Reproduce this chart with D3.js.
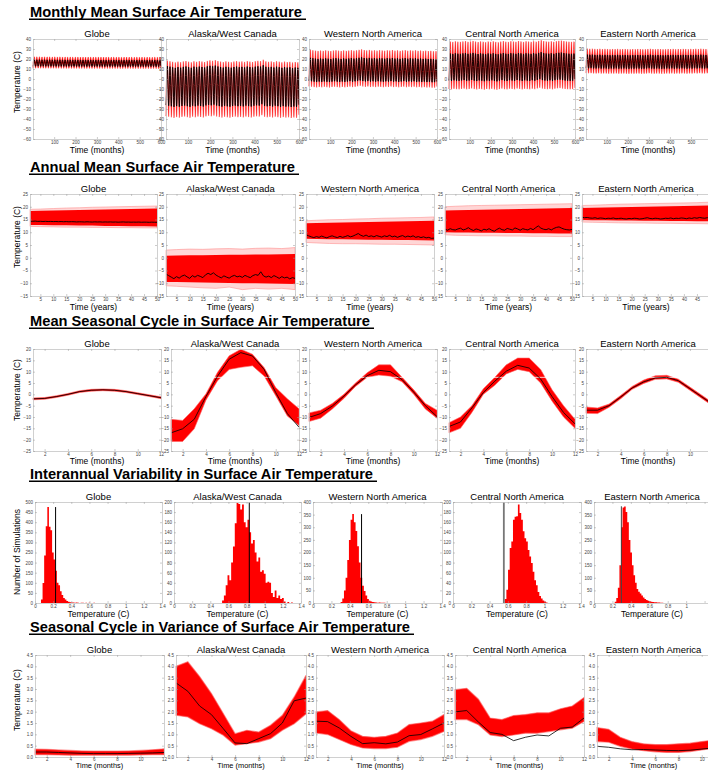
<!DOCTYPE html>
<html>
<head>
<meta charset="utf-8">
<script src="https://d3js.org/d3.v7.min.js"></script>
<style>
  body { margin: 0; background: #fff; }
  text { font-family: "Liberation Sans", Arial, sans-serif; }
</style>
</head>
<body>
<script>
// ---- data ----
var regions = ["Globe", "Alaska/West Canada", "Western North America", "Central North America", "Eastern North America"];

var sectionTitles = ["Monthly Mean Surface Air Temperature", "Annual Mean Surface Air Temperature",
  "Mean Seasonal Cycle in Surface Air Temperature", "Interannual Variability in Surface Air Temperature",
  "Seasonal Cycle in Variance of Surface Air Temperature"];

// monthly mean (C), one value per calendar month
var monthlyObs = [
  [12.5, 12.8, 14, 15.5, 17, 18.3, 19, 18.7, 17.3, 15.6, 14, 13],
  [-27, -24, -17, -6, 3, 10, 12, 9.5, 3, -7, -18, -25],
  [-2.5, -0.5, 3.5, 8, 12.5, 17, 20.5, 19.5, 14.5, 8, 2, -2],
  [-1.5, 1, 6, 12, 17, 22, 25.5, 24.5, 19, 12, 5, 0],
  [10.5, 11, 13, 15.5, 18.5, 21.5, 24, 23.5, 21, 17.5, 14, 11.5]
];
var monthlyHi = [
  [16.5, 17, 18, 19.5, 20.5, 21.5, 22, 21.8, 20.5, 19, 17.8, 17],
  [-12, -8, -2, 5, 11, 16, 17.5, 15.5, 10, 3, -5, -10],
  [8, 10, 14, 18, 22, 26, 28.5, 28, 23, 17, 11, 8],
  [10, 13, 19, 25, 30, 35, 37.5, 37, 31, 23, 15, 11],
  [18, 18.5, 21, 23.5, 26, 28.5, 30, 29.5, 27, 24, 20.5, 18.5]
];
var monthlyLo = [
  [10.5, 10.8, 11.8, 13, 14.5, 15.5, 16, 15.8, 14.8, 13.3, 12, 11],
  [-38, -36, -29, -17, -6, 3, 6, 3, -4, -16, -28, -35],
  [-8, -6, -2, 2, 6, 11, 14, 13, 8, 2, -3, -7],
  [-10, -7.5, -2, 4, 9, 14, 17, 16, 10, 3, -4, -9],
  [5.5, 6, 8, 11, 14, 17, 19, 18.5, 16, 12, 8.5, 6.5]
];

// annual mean, observed (50 years)
var annualObs = [
  [14.35,14.3,14.38,14.25,14.3,14.22,14.28,14.2,14.25,14.18,14.22,14.15,14.2,14.12,14.18,14.1,14.15,14.12,14.05,14.1,14.08,14.02,14.1,14.05,14.0,14.08,14.02,14.06,13.98,14.04,14.0,14.05,13.98,14.02,13.95,14.0,14.05,13.97,14.0,13.94,13.98,13.95,14.0,13.92,13.97,13.95,13.9,13.96,13.92,13.9],
  [-6.4,-7.0,-7.6,-8.2,-7.4,-8.0,-7.2,-6.8,-7.5,-8.1,-7.0,-7.6,-6.9,-7.3,-7.8,-6.7,-6.1,-6.6,-5.9,-6.8,-7.4,-7.9,-7.1,-7.6,-8.0,-7.3,-6.9,-7.5,-7.2,-7.7,-6.9,-7.4,-7.8,-7.0,-6.6,-6.9,-5.5,-7.1,-7.6,-7.2,-7.8,-7.0,-7.5,-8.1,-7.4,-7.9,-7.6,-8.3,-7.8,-8.1],
  [9.0,8.6,8.2,7.9,8.3,8.0,8.5,8.1,7.8,8.3,8.6,8.2,7.9,8.4,8.0,8.3,8.7,8.2,8.5,9.0,9.5,8.8,8.4,8.9,8.3,8.6,8.2,8.7,8.4,8.1,8.6,8.3,8.8,8.2,8.5,8.0,8.4,8.7,8.1,8.5,8.2,8.6,8.0,8.3,7.9,8.2,7.8,8.0,7.6,7.7],
  [11.2,10.8,11.4,11.0,10.9,11.3,11.6,10.9,11.2,11.8,11.1,10.7,11.3,11.0,10.5,11.2,10.9,11.4,10.8,10.4,11.1,11.6,11.0,10.8,11.5,11.2,10.9,11.7,11.3,10.8,11.4,11.1,10.9,11.5,11.0,11.8,12.5,11.6,11.2,11.0,11.4,10.9,11.5,11.9,12.1,11.6,11.2,11.0,10.9,11.1],
  [15.9,15.7,15.8,15.6,15.5,15.7,15.4,15.6,15.5,15.3,15.5,15.4,15.6,15.3,15.4,15.5,15.3,15.2,15.4,15.3,15.5,15.4,15.2,15.3,15.5,15.7,15.4,15.3,15.5,15.4,15.2,15.3,15.5,15.4,15.6,15.3,15.5,15.4,15.6,15.5,15.3,15.6,15.4,15.7,15.5,15.8,15.6,15.5,15.7,15.6]
];
// ensemble spread of annual means, sampled at these years
var bandYears = [1, 5, 10, 15, 20, 25, 30, 35, 40, 45, 50];
var annualCoreLo = [
  [12.8,12.8,12.7,12.7,12.6,12.6,12.5,12.5,12.4,12.4,12.3],
  [-9.5,-9.5,-9.6,-9.7,-9.8,-9.9,-10,-10,-10.1,-10.2,-10.3],
  [7.5,7.4,7.3,7.3,7.2,7.1,7.1,7,7,6.9,6.8],
  [10,9.9,9.9,9.8,9.8,9.7,9.7,9.6,9.6,9.5,9.5],
  [14.8,14.7,14.7,14.6,14.6,14.5,14.5,14.4,14.4,14.3,14.3]
];
var annualCoreHi = [
  [18.3,18.4,18.5,18.6,18.7,18.8,18.9,19,19.1,19.2,19.3],
  [0.8,0.9,1,1,1.1,1.2,1.2,1.3,1.3,1.4,1.5],
  [13.5,13.6,13.7,13.8,13.9,14,14.1,14.2,14.3,14.4,14.5],
  [18.5,18.6,18.7,18.8,18.9,19,19.1,19.2,19.3,19.4,19.5],
  [19.5,19.6,19.7,19.8,19.9,20,20.1,20.2,20.3,20.4,20.5]
];
var annualOuterLo = [
  [12.3,12.2,12.1,12,12,11.9,11.9,11.8,11.8,11.7,11.7],
  [-11,-11.2,-11.5,-11.8,-12,-11.5,-12.5,-12,-12.3,-12,-12.5],
  [6,5.8,5.6,5.5,5.5,5.4,5.3,5.3,5.2,5.1,5],
  [9,8.8,8.7,8.6,8.6,8.5,8.5,8.4,8.4,8.3,8.3],
  [14,13.9,13.8,13.7,13.6,13.6,13.5,13.5,13.4,13.4,13.3]
];
var annualOuterHi = [
  [19,19.1,19.3,19.5,19.6,19.8,19.9,20,20.1,20.2,20.3],
  [3,3.2,3.4,3.3,3.5,3.6,3.4,3.7,3.8,3.6,4],
  [14.5,14.7,14.9,15,15.2,15.3,15.5,15.6,15.7,15.8,16],
  [20,20.2,20.4,20.5,20.6,20.7,20.8,20.9,21,21.1,21.2],
  [20.5,20.6,20.8,21,21.1,21.2,21.3,21.4,21.5,21.6,21.8]
];

// mean seasonal cycle (anomaly, C)
var seasObs = [
  [-2, -1.8, -1, 0, 1.2, 1.8, 2, 1.8, 1.2, 0.3, -0.6, -1.5],
  [-17, -15.2, -11, -1, 8, 15.5, 18.4, 16.9, 11, 0.8, -8.5, -14.5],
  [-10.2, -8.5, -5.2, -0.8, 4.2, 8.2, 10.6, 10, 6.5, 1, -5, -9.8],
  [-14.2, -12.2, -6, 0.8, 5.8, 10.2, 12.8, 11.6, 6.8, -1, -8, -13],
  [-7, -7, -5, -1.2, 2.8, 5.5, 7.2, 7.5, 6, 2.5, -1, -4.5]
];
var seasHi = [
  [-1.6, -1.4, -0.6, 0.4, 1.6, 2.2, 2.4, 2.2, 1.6, 0.7, -0.2, -1.1],
  [-11, -11.5, -6.4, 0.2, 9.7, 17, 19.9, 17.7, 11.8, 3, -2, -6.4],
  [-8.2, -7, -4, 0, 5, 9.5, 13, 13, 7.5, 2, -4, -7],
  [-12.5, -10, -5, 2.5, 7.5, 13, 16, 16, 11, 2, -5, -11],
  [-5.6, -6, -4.3, -0.5, 3.5, 6.3, 8.2, 8.4, 6.7, 3.2, -0.3, -3.8]
];
var seasLo = [
  [-2.4, -2.2, -1.4, -0.4, 0.8, 1.4, 1.6, 1.4, 0.8, -0.1, -1, -1.9],
  [-20.8, -20.8, -15.2, -2.6, 6, 11, 11.9, 12.6, 8.1, -0.6, -9.6, -13.7],
  [-12, -10.5, -6.5, -1.8, 3.5, 7.5, 8.5, 8, 5.5, 0, -6.5, -10.5],
  [-17, -15, -8, 0, 4, 9, 11, 10, 5, -3, -10, -15],
  [-8.4, -8.5, -5.7, -2, 2.2, 4.8, 6.6, 6.8, 5.3, 1.8, -1.7, -5.2]
];

// interannual variability histograms: first bin edge, bin width, counts
var histX0 = [0.066, 0.53, 0.30, 0.566, 0.225];
var histW = [0.0175, 0.02, 0.018, 0.018, 0.017];
var histCounts = [
  [17,99,235,380,475,378,360,250,215,160,100,88,58,40,25,17,10,6,4,3,2,1,2,1,0,1,1,0,1,0,1,0,0,1],
  [5,15,35,55,45,80,112,158,198,196,185,195,160,150,165,140,118,125,100,82,90,62,65,58,40,42,40,20,12,25,10,15,8,10,3,0,2,0,1],
  [4,18,50,100,170,250,330,352,320,285,225,160,100,68,48,30,16,9,6,4,3,2,1,2,1,1,1],
  [8,26,66,109,122,165,171,172,195,178,165,142,128,122,105,92,79,62,45,35,22,14,9,5,3,1],
  [5,20,60,150,300,378,382,360,320,250,200,150,110,80,55,45,38,30,22,16,12,9,7,5,4,3,3,2,2,1,1]
];
var histObs = [0.227, 0.83, 0.527, 0.556, 0.297];
var histObsTop = [475, 200, 352, 200, 383];

// seasonal cycle in variance
var varObs = [
  [0.22,0.22,0.2,0.18,0.16,0.15,0.15,0.15,0.16,0.17,0.18,0.2],
  [3.27,2.9,2.25,1.87,1.25,0.62,0.59,0.81,1.03,1.5,2.48,2.6],
  [1.58,1.56,1.28,0.91,0.59,0.63,0.58,0.66,0.94,0.99,1.24,1.5],
  [1.99,2.05,1.54,1.08,1.0,0.72,0.87,0.97,0.93,1.27,1.32,1.72],
  [0.47,0.43,0.36,0.32,0.33,0.31,0.29,0.28,0.3,0.35,0.4,0.43]
];
var varHi = [
  [0.35,0.34,0.31,0.29,0.27,0.26,0.26,0.26,0.27,0.29,0.32,0.36],
  [4.0,4.2,3.55,2.8,1.92,1.03,1.18,1.1,1.4,1.84,2.65,3.6],
  [1.99,2.05,1.65,1.16,0.91,0.87,0.91,1.06,1.43,1.5,1.58,1.87],
  [2.97,3.03,2.55,1.72,1.65,1.83,1.87,1.95,1.95,2.13,2.25,2.62],
  [1.3,1.22,0.87,0.68,0.58,0.55,0.55,0.58,0.61,0.68,0.75,0.83]
];
var varLo = [
  [0.1,0.1,0.09,0.08,0.08,0.08,0.08,0.08,0.08,0.09,0.1,0.1],
  [1.84,1.77,1.47,1.25,0.96,0.52,0.59,0.66,0.81,1.18,1.47,1.9],
  [1.06,0.99,0.77,0.55,0.4,0.37,0.37,0.43,0.69,0.77,0.91,1.13],
  [1.65,1.65,1.42,0.97,0.9,0.97,1.05,1.05,1.12,1.2,1.27,1.57],
  [0.68,0.65,0.47,0.35,0.28,0.23,0.2,0.2,0.24,0.31,0.37,0.45]
];

// tick values
var monthlyXTicks = [100, 200, 300, 400, 500, 600];
var monthlyYTicks = [-60, -50, -40, -30, -20, -10, 0, 10, 20, 30, 40];
var yearTicks = [5, 10, 15, 20, 25, 30, 35, 40, 45, 50];
var annualYTicks = [-15, -10, -5, 0, 5, 10, 15, 20, 25];
var monthTicks = [2, 4, 6, 8, 10, 12];
var seasYTicks = [-25, -20, -15, -10, -5, 0, 5, 10, 15, 20];
var histXTicks = [0, 0.2, 0.4, 0.6, 0.8, 1, 1.2, 1.4];
var histYTicks = [
  [0, 50, 100, 150, 200, 250, 300, 350, 400, 450, 500],
  [0, 20, 40, 60, 80, 100, 120, 140, 160, 180, 200],
  [0, 50, 100, 150, 200, 250, 300, 350, 400],
  [0, 20, 40, 60, 80, 100, 120, 140, 160, 180, 200],
  [0, 50, 100, 150, 200, 250, 300, 350, 400]
];
var varYTicks = [0, 0.5, 1, 1.5, 2, 2.5, 3, 3.5, 4, 4.5];

// ---- layout ----
var rows = [
  {top: 39, bottom: 139, lefts: [33, 166, 309, 449, 586], rights: [161, 299, 437, 575, 712], titleY: 17, titleLen: 272, xlab: "Time (months)", xlabY: 153, xlabSize: 8.5, ylab: "Temperature (C)", ylabY: 82},
  {top: 194, bottom: 296, lefts: [30, 166, 306, 445, 582], rights: [157, 295, 434, 572, 710], titleY: 172, titleLen: 265, xlab: "Time (years)", xlabY: 310, xlabSize: 8.5, ylab: "Temperature (C)", ylabY: 237},
  {top: 349, bottom: 451, lefts: [33, 171, 309, 449, 586], rights: [161, 299, 437, 575, 713], titleY: 326, titleLen: 340, xlab: "Time (months)", xlabY: 464, xlabSize: 8.5, ylab: "Temperature (C)", ylabY: 390},
  {top: 502, bottom: 603, lefts: [35, 174, 313, 453, 594], rights: [162, 301, 442, 581, 723], titleY: 479, titleLen: 343, xlab: "Temperature (C)", xlabY: 617, xlabSize: 8.5, ylab: "Number of Simulations", ylabY: 552},
  {top: 655, bottom: 757, lefts: [35, 176, 316, 455, 597], rights: [164, 306, 444, 584, 725], titleY: 632, titleLen: 380, xlab: "Time (months)", xlabY: 768.2, xlabSize: 7.4, ylab: "Temperature (C)", ylabY: 700}
];

var svg = d3.select("body").append("svg").attr("width", 708).attr("height", 770);
svg.append("rect").attr("width", 708).attr("height", 770).attr("fill", "#fff");

var red = "#ff0000";
var months = d3.range(1, 13);

function panel(row, i) {
  var L = rows[row];
  var w = L.rights[i] - L.lefts[i], h = L.bottom - L.top;
  var g = svg.append("g").attr("transform", "translate(" + L.lefts[i] + "," + L.top + ")");
  // the last panel runs past the page edge, so centre its texts on the visible part
  var cx = L.rights[i] > 705 ? (710 - L.lefts[i]) / 2 : w / 2;
  g.append("text").attr("x", cx).attr("y", -2.5).attr("text-anchor", "middle")
    .attr("font-size", 9.5).text(regions[i]);
  g.append("text").attr("x", cx).attr("y", L.xlabY - L.top).attr("text-anchor", "middle")
    .attr("font-size", L.xlabSize).text(L.xlab);
  return {g: g, w: w, h: h, left: L.lefts[i]};
}

function axes(p, x, y, xt, yt, pad) {
  var g = p.g.append("g");
  // drop x labels that would fall off the page
  var xtVis = xt.filter(function(v) { return p.left + x(v) < 702; });
  g.append("g").attr("transform", "translate(0," + p.h + ")")
    .call(d3.axisBottom(x).tickValues(xt).tickSize(-2).tickSizeOuter(0).tickPadding(pad || 2.2)
      .tickFormat(function(v) { return xtVis.indexOf(v) >= 0 ? v : ""; }));
  g.append("g").call(d3.axisTop(x).tickValues(xt).tickFormat("").tickSize(-2).tickSizeOuter(0));
  g.append("g").call(d3.axisLeft(y).tickValues(yt).tickSize(-2).tickSizeOuter(0).tickPadding(2));
  g.append("g").attr("transform", "translate(" + p.w + ",0)")
    .call(d3.axisRight(y).tickValues(yt).tickFormat("").tickSize(-2).tickSizeOuter(0));
  g.selectAll(".domain").attr("stroke", "#c4c4c4").attr("stroke-width", 0.8);
  g.selectAll(".tick line").attr("stroke", "#999").attr("stroke-width", 0.5);
  g.selectAll(".tick text").attr("font-size", 4.5).attr("fill", "#444")
    .attr("font-family", "'Liberation Sans', Arial, sans-serif");
}

// section titles and y labels
rows.forEach(function(L, r) {
  svg.append("text").attr("x", 30).attr("y", L.titleY).attr("font-size", 15)
    .attr("font-weight", "bold").attr("textLength", L.titleLen).attr("lengthAdjust", "spacingAndGlyphs")
    .text(sectionTitles[r]);
  svg.append("line").attr("x1", 29).attr("x2", 30 + L.titleLen + 4)
    .attr("y1", L.titleY + 2.3).attr("y2", L.titleY + 2.3).attr("stroke", "#000").attr("stroke-width", 1.6);
  svg.append("text").attr("transform", "translate(17," + L.ylabY + ") rotate(-90)")
    .attr("text-anchor", "middle").attr("dy", "0.35em").attr("font-size", 8.5).text(L.ylab);
});

// ---- row 1: monthly means ----
regions.forEach(function(name, i) {
  var p = panel(0, i);
  var x = d3.scaleLinear().domain([1, 600]).range([0, p.w]);
  var y = d3.scaleLinear().domain([-60, 40]).range([p.h, 0]);
  var ann = annualObs[i], mean = d3.mean(ann);
  var series = d3.range(1, 601).map(function(t) {
    var m = (t - 1) % 12, dv = ann[Math.floor((t - 1) / 12)] - mean;
    return {t: t, obs: monthlyObs[i][m] + dv, hi: monthlyHi[i][m] + dv, lo: monthlyLo[i][m] + dv};
  });
  p.g.append("path").datum(series).attr("fill", red).attr("stroke", red).attr("stroke-width", 0.4)
    .attr("d", d3.area().x(function(d) { return x(d.t); }).y0(function(d) { return y(d.lo); }).y1(function(d) { return y(d.hi); }));
  p.g.append("path").datum(series).attr("fill", "none").attr("stroke", "#000").attr("stroke-width", 0.9)
    .attr("d", d3.line().x(function(d) { return x(d.t); }).y(function(d) { return y(d.obs); }));
  axes(p, x, y, monthlyXTicks, monthlyYTicks);
});

// ---- row 2: annual means ----
regions.forEach(function(name, i) {
  var p = panel(1, i);
  var x = d3.scaleLinear().domain([1, 50]).range([0, p.w]);
  var y = d3.scaleLinear().domain([-15, 25]).range([p.h, 0]);
  var outer = bandYears.map(function(yr, k) { return {t: yr, lo: annualOuterLo[i][k], hi: annualOuterHi[i][k]}; });
  var core = bandYears.map(function(yr, k) { return {t: yr, lo: annualCoreLo[i][k], hi: annualCoreHi[i][k]}; });
  var area = d3.area().x(function(d) { return x(d.t); }).y0(function(d) { return y(d.lo); }).y1(function(d) { return y(d.hi); });
  p.g.append("path").datum(outer).attr("fill", red).attr("fill-opacity", 0.16)
    .attr("stroke", "#ff8080").attr("stroke-width", 0.5).attr("d", area);
  p.g.append("path").datum(core).attr("fill", red).attr("d", area);
  p.g.append("path").datum(annualObs[i]).attr("fill", "none").attr("stroke", "#000").attr("stroke-width", 0.9)
    .attr("d", d3.line().x(function(d, k) { return x(k + 1); }).y(function(d) { return y(d); }));
  axes(p, x, y, yearTicks, annualYTicks);
});

// ---- row 3: mean seasonal cycle ----
regions.forEach(function(name, i) {
  var p = panel(2, i);
  var x = d3.scaleLinear().domain([1, 12]).range([0, p.w]);
  var y = d3.scaleLinear().domain([-25, 20]).range([p.h, 0]);
  p.g.append("path").datum(months).attr("fill", red).attr("stroke", "#ff6060").attr("stroke-width", 0.6)
    .attr("d", d3.area().x(function(m) { return x(m); })
      .y0(function(m) { return y(seasLo[i][m - 1]); }).y1(function(m) { return y(seasHi[i][m - 1]); }));
  p.g.append("line").attr("x1", 0).attr("x2", p.w).attr("y1", y(7.5)).attr("y2", y(7.5))
    .attr("stroke", "#fff").attr("stroke-width", 0.8);
  p.g.append("path").datum(seasObs[i]).attr("fill", "none").attr("stroke", "#000").attr("stroke-width", 0.8)
    .attr("d", d3.line().x(function(d, k) { return x(k + 1); }).y(function(d) { return y(d); }));
  axes(p, x, y, monthTicks, seasYTicks);
});

// ---- row 4: interannual variability histograms ----
regions.forEach(function(name, i) {
  var p = panel(3, i);
  var x = d3.scaleLinear().domain([0, 1.4]).range([0, p.w]);
  var yt = histYTicks[i];
  var y = d3.scaleLinear().domain([0, yt[yt.length - 1]]).range([p.h, 0]);
  var steps = histCounts[i].map(function(c, k) { return {e: histX0[i] + k * histW[i], c: c}; });
  steps.push({e: histX0[i] + histCounts[i].length * histW[i], c: 0});
  p.g.append("path").datum(steps).attr("fill", red)
    .attr("d", d3.area().curve(d3.curveStepAfter).x(function(d) { return x(d.e); })
      .y0(p.h).y1(function(d) { return y(d.c); }));
  p.g.append("line").attr("x1", x(histObs[i])).attr("x2", x(histObs[i]))
    .attr("y1", p.h).attr("y2", y(histObsTop[i]))
    .attr("stroke", i == 3 ? "#777" : (i == 4 ? "#444" : "#000")).attr("stroke-width", i == 3 ? 1.8 : 1);
  axes(p, x, y, histXTicks, yt);
});

// ---- row 5: seasonal cycle in variance ----
regions.forEach(function(name, i) {
  var p = panel(4, i);
  var x = d3.scaleLinear().domain([1, 12]).range([0, p.w]);
  var y = d3.scaleLinear().domain([0, 4.5]).range([p.h, 0]);
  p.g.append("path").datum(months).attr("fill", red).attr("stroke", "#ff5a5a").attr("stroke-width", 1.2)
    .attr("stroke-opacity", 0.6)
    .attr("d", d3.area().x(function(m) { return x(m); })
      .y0(function(m) { return y(varLo[i][m - 1]); }).y1(function(m) { return y(varHi[i][m - 1]); }));
  p.g.append("path").datum(varObs[i]).attr("fill", "none").attr("stroke", "#000").attr("stroke-width", 0.8)
    .attr("d", d3.line().x(function(d, k) { return x(k + 1); }).y(function(d) { return y(d); }));
  axes(p, x, y, monthTicks, varYTicks, 0.6);
});
</script>
</body>
</html>
